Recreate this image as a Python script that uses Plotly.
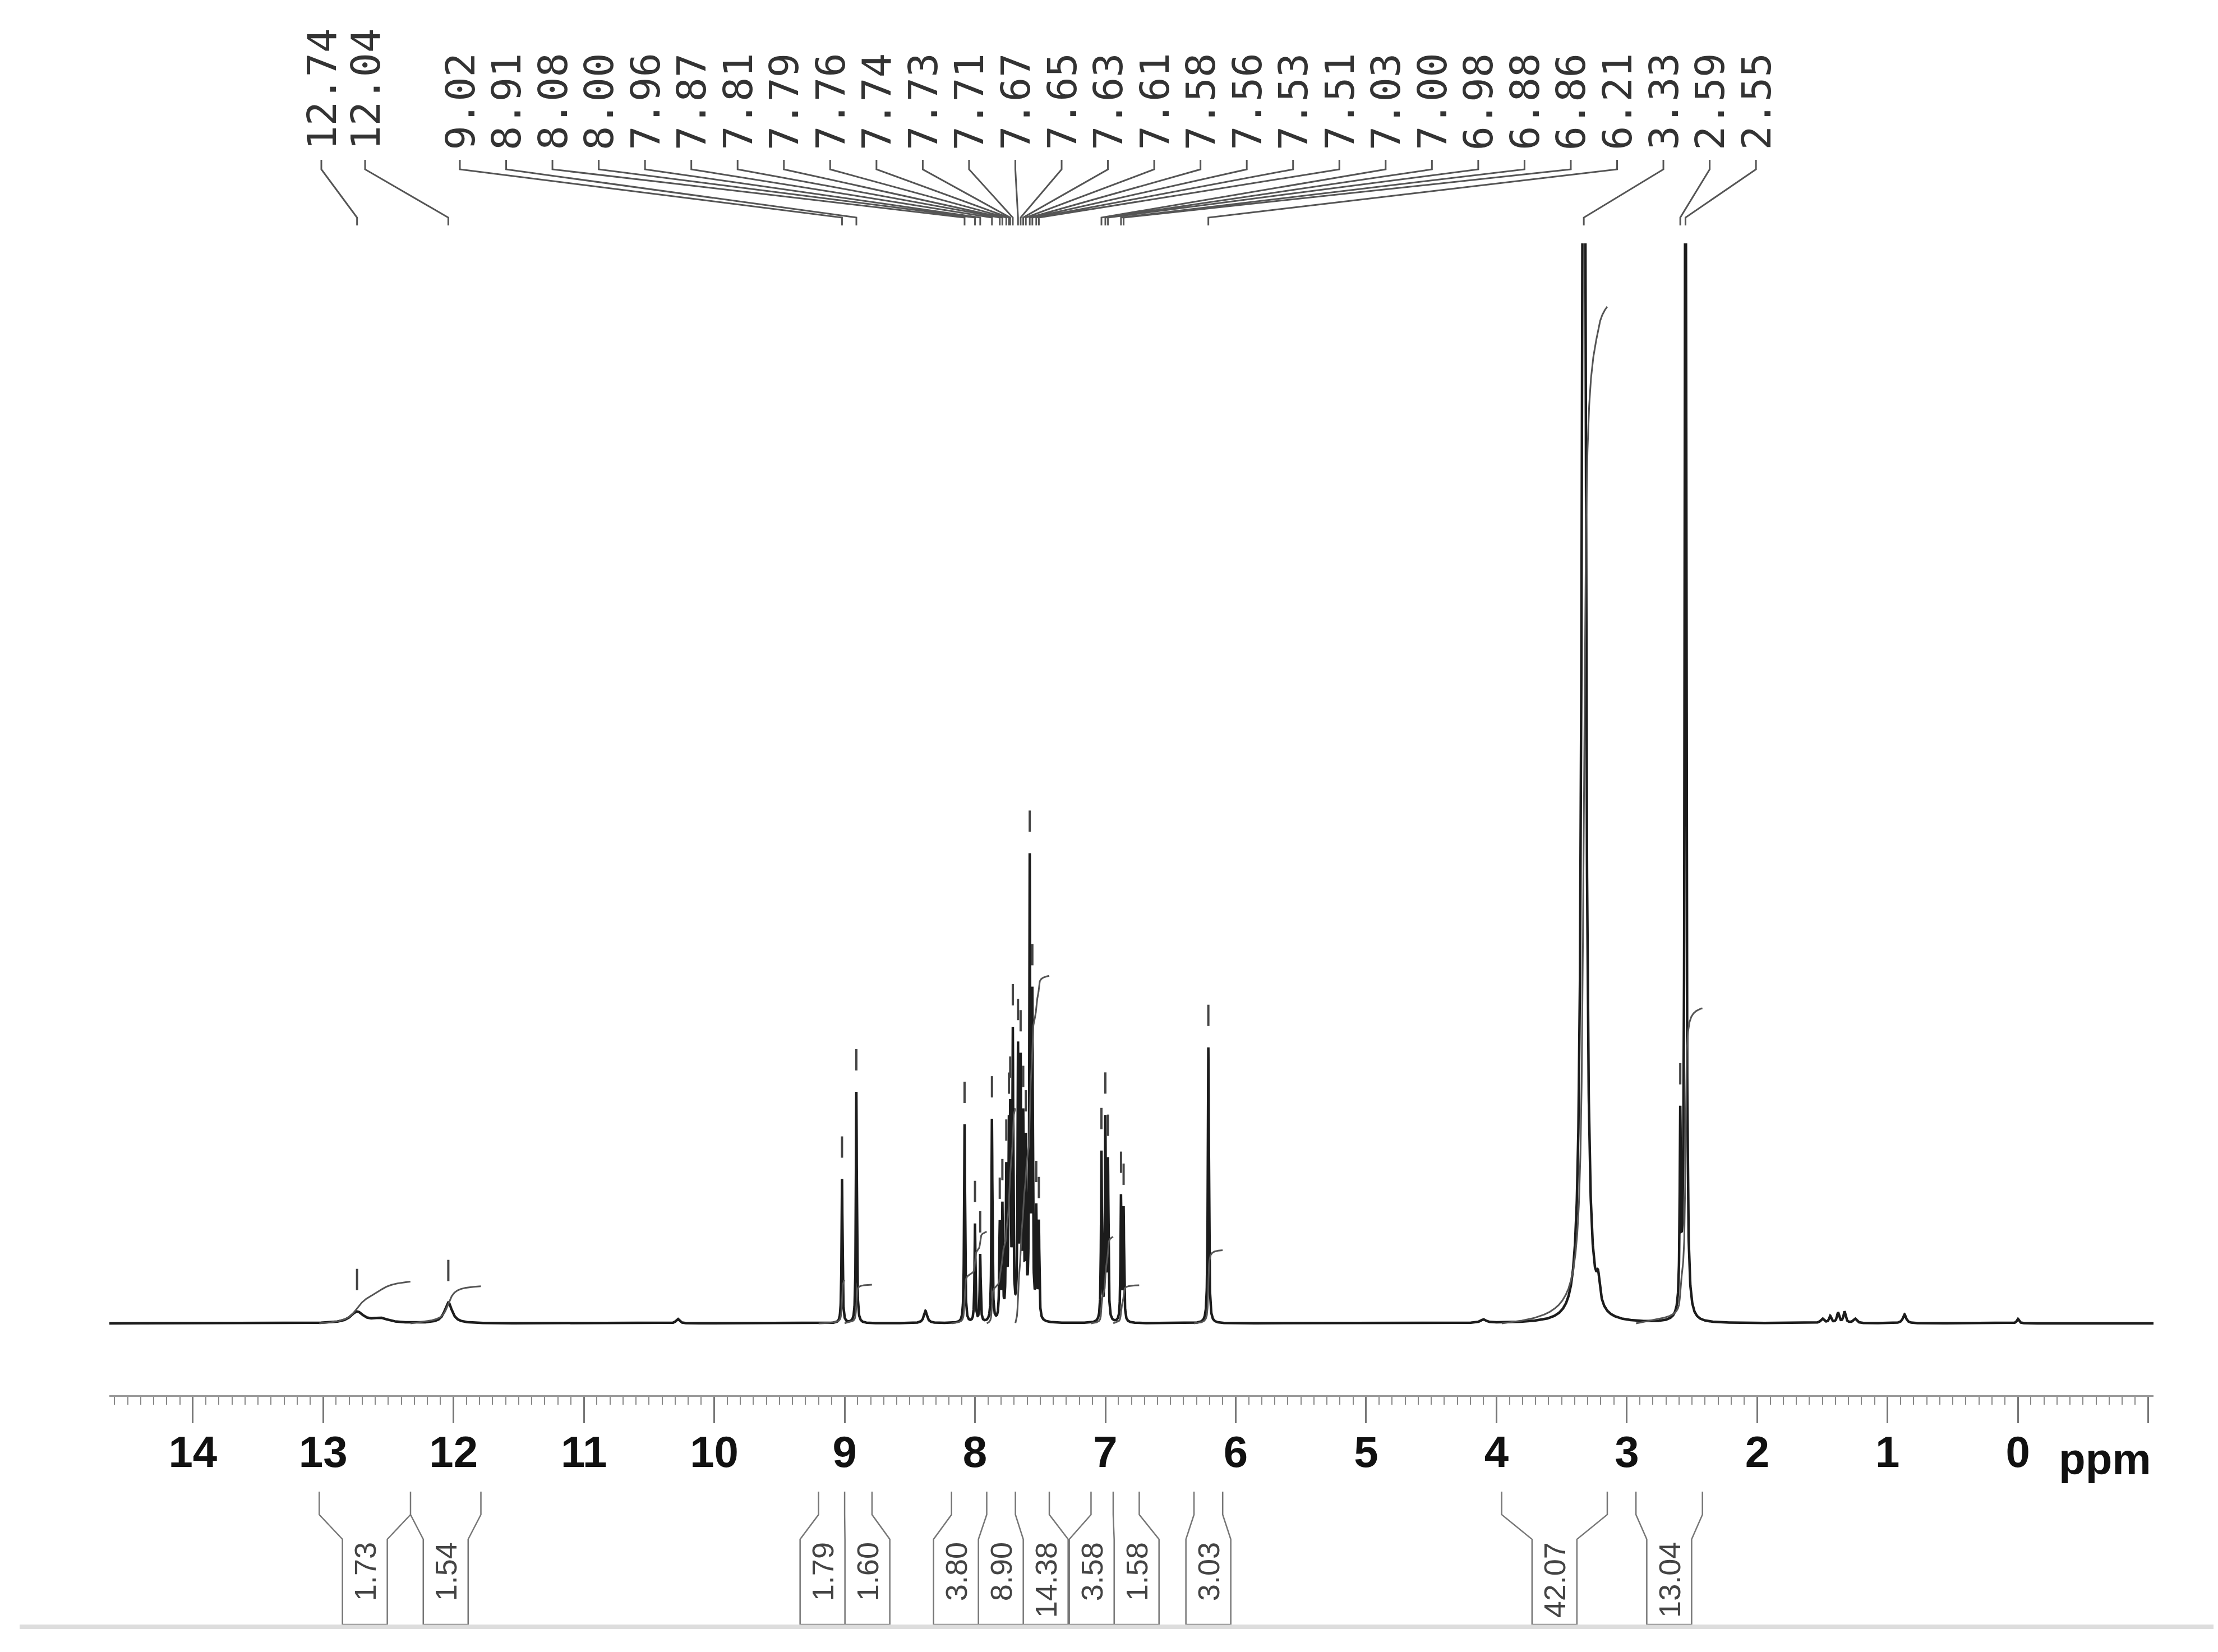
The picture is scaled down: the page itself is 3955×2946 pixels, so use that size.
import numpy as np
import plotly.graph_objects as go

W, H = 3955, 2946
X_LEFT, X_RIGHT = 14.64, -1.04
Y_MIN, Y_MAX = -128, 1926

# ---- picked (labelled) peaks: position (ppm), height (intensity), line width (ppm) ----
peak_ppm = [12.74, 12.04, 9.02, 8.91, 8.08, 8.00, 7.96, 7.87, 7.81, 7.79, 7.76, 7.74,
            7.73, 7.71, 7.67, 7.65, 7.63, 7.61, 7.58, 7.56, 7.53, 7.51, 7.03, 7.00,
            6.98, 6.88, 6.86, 6.21, 3.33, 2.59, 2.55]
peak_height = [20, 37, 257, 413, 355, 175, 120, 362, 170, 200, 260, 300,
               330, 500, 470, 440, 340, 300, 805, 560, 190, 170, 300, 355,
               280, 222, 200, 493, 3000, 330, 2600]
peak_fwhm = [0.12, 0.07, 0.008, 0.008, 0.008, 0.008, 0.008, 0.008, 0.008, 0.008, 0.008, 0.008,
             0.008, 0.008, 0.008, 0.008, 0.008, 0.008, 0.008, 0.008, 0.008, 0.008, 0.008, 0.008,
             0.008, 0.008, 0.008, 0.009, 0.03, 0.01, 0.012]

# ---- small unlabelled signals ----
minor_ppm = [12.56, 10.28, 8.38, 4.10, 3.22, 1.50, 1.44, 1.38, 1.33, 1.25, 0.87, 0.00]
minor_height = [8, 8, 22, 6, 40, 8, 12, 18, 20, 8, 16, 8]
minor_fwhm = [0.15, 0.03, 0.03, 0.05, 0.03, 0.03, 0.02, 0.02, 0.02, 0.03, 0.03, 0.02]

# ---- integrals ----
integral_from = [13.03, 12.33, 9.20, 9.00, 8.18, 7.91, 7.69, 7.11, 6.94, 6.32, 3.96, 2.93]
integral_to = [12.33, 11.79, 9.00, 8.79, 7.91, 7.69, 7.43, 6.94, 6.74, 6.10, 3.15, 2.42]
integral_value = [1.73, 1.54, 1.79, 1.60, 3.80, 8.90, 14.38, 3.58, 1.58, 3.03, 42.07, 13.04]

tick_vals = list(range(-1, 15))
tick_text = [str(v) if v >= 0 else "" for v in tick_vals]

# ---------------- layout geometry (pixels) ----------------
PL, PR, PT, PB = 187, 3832, 426, 2480


def px_to_ppm(px):
    return X_LEFT - (px - PL) / (PR - PL) * (X_LEFT - X_RIGHT)


def ppm_to_px(p):
    return PL + (X_LEFT - p) / (X_LEFT - X_RIGHT) * (PR - PL)


def py_paper(py):
    return (PB - py) / (PB - PT)


# ---------------- spectrum ----------------
x = np.linspace(X_LEFT, X_RIGHT, 22000)


def lorentz(xx, x0, h, w):
    return h / (1.0 + ((xx - x0) / (w / 2.0)) ** 2)


spec = np.zeros_like(x)
for p, h, w in zip(peak_ppm + minor_ppm, peak_height + minor_height, peak_fwhm + minor_fwhm):
    spec += lorentz(x, p, h, w)

fig = go.Figure()
fig.add_trace(go.Scatter(x=x, y=spec, mode="lines", line=dict(color="#1c1c1c", width=4.5),
                         hoverinfo="skip", showlegend=False))

# integral curves
K = 43.1
for a, b, v in zip(integral_from, integral_to, integral_value):
    m = (x <= a) & (x >= b)
    xs = x[m]
    c = np.cumsum(spec[m])
    c = c / c[-1]
    fig.add_trace(go.Scatter(x=xs, y=K * v * c, mode="lines",
                             line=dict(color="#555555", width=3),
                             hoverinfo="skip", showlegend=False))

# peak-pick dashes above each picked peak
dx, dy = [], []
for p in peak_ppm:
    m = np.abs(x - p) < 0.006
    top = spec[m].max()
    dx += [p, p, None]
    dy += [top + 38, top + 76, None]
fig.add_trace(go.Scatter(x=dx, y=dy, mode="lines", line=dict(color="#444444", width=4),
                         hoverinfo="skip", showlegend=False))

shapes = []
annotations = []

# ---------------- top peak labels + connectors ----------------
label_px = [565, 643] + [812 + 82.54 * i for i in range(len(peak_ppm) - 2)]
path = ""
for lp, p in zip(label_px, peak_ppm):
    lx = px_to_ppm(lp)
    path += "M{:.5f},{:.5f} L{:.5f},{:.5f} L{:.5f},{:.5f} L{:.5f},{:.5f} ".format(
        lx, py_paper(277), lx, py_paper(294), p, py_paper(380), p, py_paper(394))
    annotations.append(dict(x=lx, y=py_paper(262), xref="x", yref="paper", text="%.2f" % p,
                            textangle=-90, showarrow=False, xanchor="center", yanchor="bottom",
                            font=dict(family="DejaVu Sans Mono", size=72, color="#333333")))
shapes.append(dict(type="path", xref="x", yref="paper", path=path,
                   line=dict(color="#555555", width=3)))

# ---------------- integral brackets below the axis ----------------
BOX = 80
centers = [(ppm_to_px(a) + ppm_to_px(b)) / 2 for a, b in zip(integral_from, integral_to)]
groups = [[i] for i in range(len(centers))]
changed = True
while changed:
    changed = False
    for i in range(len(groups) - 1):
        g1, g2 = groups[i], groups[i + 1]
        m1 = np.mean([centers[k] for k in g1])
        m2 = np.mean([centers[k] for k in g2])
        if m1 + len(g1) * BOX / 2 > m2 - len(g2) * BOX / 2:
            groups[i] = g1 + g2
            del groups[i + 1]
            changed = True
            break
box_c = [0] * len(centers)
for g in groups:
    m = np.mean([centers[k] for k in g])
    for j, k in enumerate(g):
        box_c[k] = m + (j - (len(g) - 1) / 2) * BOX

bpath = ""
y0, y1, y2, y3 = py_paper(2652), py_paper(2693), py_paper(2737), py_paper(2889)
for a, b, v, bc in zip(integral_from, integral_to, integral_value, box_c):
    bl = px_to_ppm(bc - BOX / 2)
    br = px_to_ppm(bc + BOX / 2)
    bpath += "M{:.5f},{:.5f} L{:.5f},{:.5f} L{:.5f},{:.5f} L{:.5f},{:.5f} L{:.5f},{:.5f} L{:.5f},{:.5f} L{:.5f},{:.5f} L{:.5f},{:.5f} ".format(
        a, y0, a, y1, bl, y2, bl, y3, br, y3, br, y2, b, y1, b, y0)
    annotations.append(dict(x=px_to_ppm(bc), y=py_paper(2740), xref="x", yref="paper",
                            text="%.2f" % v, textangle=-90, showarrow=False,
                            xanchor="center", yanchor="top",
                            font=dict(family="Liberation Sans", size=54, color="#444444")))
shapes.append(dict(type="path", xref="x", yref="paper", path=bpath,
                   line=dict(color="#777777", width=2.5)))

# faint strip at the bottom edge
shapes.append(dict(type="line", xref="paper", yref="paper",
                   x0=(27 - PL) / (PR - PL), x1=(3950 - PL) / (PR - PL),
                   y0=py_paper(2893), y1=py_paper(2893),
                   line=dict(color="#dddddd", width=8)))

# ppm unit label
annotations.append(dict(x=(3830 - PL) / (PR - PL), y=py_paper(2594), xref="paper", yref="paper",
                        text="ppm", showarrow=False, xanchor="right", yanchor="middle",
                        font=dict(family="Liberation Sans", size=78, color="#111111", weight="bold")))

fig.update_layout(
    width=W, height=H,
    margin=dict(l=PL, r=W - PR, t=PT, b=H - PB, pad=0),
    paper_bgcolor="white", plot_bgcolor="white",
    showlegend=False,
    shapes=shapes, annotations=annotations,
    xaxis=dict(range=[X_LEFT, X_RIGHT], tickvals=tick_vals, ticktext=tick_text,
               ticks="outside", ticklen=47, tickwidth=3, tickcolor="#777777",
               showline=True, linecolor="#999999", linewidth=3,
               showgrid=False, zeroline=False, ticklabelstandoff=-16,
               tickfont=dict(family="Liberation Sans", size=78, color="#111111", weight="bold"),
               minor=dict(dtick=0.1, tick0=0, ticks="outside", ticklen=14, tickwidth=2,
                          tickcolor="#888888", showgrid=False)),
    yaxis=dict(range=[Y_MIN, Y_MAX], visible=False, showgrid=False, zeroline=False),
)

fig.write_html("out.html")
